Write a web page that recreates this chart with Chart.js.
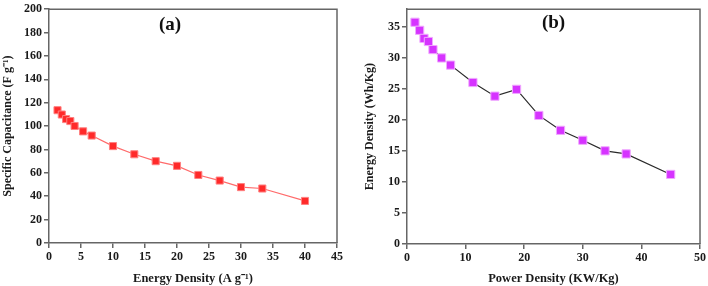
<!DOCTYPE html>
<html>
<head>
<meta charset="utf-8">
<script src="https://cdn.jsdelivr.net/npm/chart.js@4.4.0/dist/chart.umd.min.js"></script>
<style>
  html, body { margin: 0; padding: 0; background: #fff; }
  #wrap { position: relative; width: 708px; height: 286px; }
  .box { position: absolute; top: 0; width: 354px; height: 286px; }
</style>
</head>
<body>
<div id="wrap">
  <div class="box" style="left:0"><canvas id="ca"></canvas></div>
  <div class="box" style="left:354px"><canvas id="cb"></canvas></div>
</div>
<script>
// Panel (a): specific capacitance vs current density
const currentDensity = [1.33, 2, 2.67, 3.33, 4, 5.33, 6.67, 10, 13.33, 16.67, 20, 23.33, 26.67, 30, 33.33, 40];
const capacitance   = [113.6, 109.9, 106, 104.3, 100.1, 95.5, 91.9, 82.9, 75.9, 70, 66, 58.2, 53.4, 47.8, 46.6, 36];
const xTicksA = [0, 5, 10, 15, 20, 25, 30, 35, 40, 45];
const yTicksA = [0, 20, 40, 60, 80, 100, 120, 140, 160, 180, 200];

// Panel (b): Ragone plot
const powerDensity  = [1.36, 2.16, 2.9, 3.65, 4.43, 5.9, 7.44, 11.25, 15.0, 18.7, 22.5, 26.2, 30.0, 33.8, 37.4, 45.0];
const energyDensity = [35.7, 34.4, 33.1, 32.6, 31.3, 29.95, 28.8, 26.0, 23.8, 24.9, 20.7, 18.3, 16.7, 15.0, 14.5, 11.2];
const xTicksB = [0, 10, 20, 30, 40, 50];
const yTicksB = [0, 5, 10, 15, 20, 25, 30, 35];

const FONT = "'Liberation Serif', 'Times New Roman', serif";

const framePlugin = {
  id: 'frame',
  afterDraw(chart, args, opts) {
    const a = chart.chartArea, ctx = chart.ctx;
    ctx.save();
    ctx.strokeStyle = '#666';
    ctx.lineWidth = 1.5;
    ctx.beginPath();
    ctx.moveTo(a.left, a.top);
    ctx.lineTo(a.right, a.top);
    ctx.lineTo(a.right, a.bottom);
    ctx.stroke();
    ctx.fillStyle = '#111';
    ctx.font = "bold 19px " + FONT;
    ctx.textAlign = 'center';
    ctx.textBaseline = 'middle';
    ctx.fillText(opts.label, a.left + opts.fx * (a.right - a.left), a.top + opts.dy);
    ctx.restore();
  }
};

function makeChart(id, cfg) {
  const tickFont = { family: FONT, size: 12, weight: 'bold' };
  const xTitleFont = { family: FONT, size: 12.5, weight: 'bold' };
  const yTitleFont = { family: FONT, size: 12, weight: 'bold' };
  return new Chart(document.getElementById(id), {
    type: 'scatter',
    data: {
      datasets: [{
        data: cfg.xs.map((x, i) => ({ x: x, y: cfg.ys[i] })),
        showLine: true,
        borderColor: cfg.lineColor,
        borderWidth: 1.2,
        pointStyle: 'rect',
        pointRadius: cfg.pr,
        pointHoverRadius: cfg.pr,
        pointBackgroundColor: cfg.fill,
        pointBorderColor: cfg.edge,
        pointBorderWidth: 1
      }]
    },
    options: {
      responsive: false,
      animation: false,
      devicePixelRatio: 1,
      layout: { padding: cfg.pad },
      plugins: {
        legend: { display: false },
        tooltip: { enabled: false },
        frame: { label: cfg.label, fx: cfg.fx, dy: cfg.dy }
      },
      scales: {
        x: {
          type: 'linear', min: cfg.xMin, max: cfg.xMax,
          afterBuildTicks: s => { s.ticks = cfg.xTicks.map(v => ({ value: v })); },
          afterFit: s => { s.height = cfg.xh; },
          grid: { display: true, drawOnChartArea: false, drawTicks: true, tickLength: 5, color: '#666', lineWidth: 1.5 },
          border: { display: true, color: '#666', width: 1.5 },
          ticks: { font: tickFont, color: '#1a1a1a', padding: 2, maxRotation: 0 },
          title: { display: true, text: cfg.xTitle, font: xTitleFont, color: '#1a1a1a', padding: { top: 0, bottom: 0 } }
        },
        y: {
          type: 'linear', min: cfg.yMin, max: cfg.yMax,
          afterBuildTicks: s => { s.ticks = cfg.yTicks.map(v => ({ value: v })); },
          afterFit: s => { s.width = cfg.yw; },
          grid: { display: true, drawOnChartArea: false, drawTicks: true, tickLength: 5, color: '#666', lineWidth: 1.5 },
          border: { display: true, color: '#666', width: 1.5 },
          ticks: { font: tickFont, color: '#1a1a1a', padding: 2 },
          title: { display: true, text: cfg.yTitle, font: yTitleFont, color: '#1a1a1a', padding: { top: cfg.ytp, bottom: 0 } }
        }
      }
    },
    plugins: [framePlugin]
  });
}

document.getElementById('ca').width = 354; document.getElementById('ca').height = 286;
document.getElementById('cb').width = 354; document.getElementById('cb').height = 286;

makeChart('ca', {
  xs: currentDensity, ys: capacitance,
  lineColor: '#ff6b6b', fill: '#ff2a2a', edge: '#ff8080', pr: 5,
  pad: { left: 0, right: 17, top: 6, bottom: 0 },
  xMin: 0, xMax: 45, yMin: 0, yMax: 200, xTicks: xTicksA, yTicks: yTicksA,
  xh: 43, yw: 49, ytp: 1,
  xTitle: 'Energy Density (A g⁻¹)', yTitle: 'Specific Capacitance (F g⁻¹)',
  label: '(a)', fx: 0.42, dy: 16
});

makeChart('cb', {
  xs: powerDensity, ys: energyDensity,
  lineColor: '#2a2a2a', fill: '#d633ff', edge: '#f0a8ff', pr: 5.8,
  pad: { left: 0, right: 7, top: 7, bottom: 0 },
  xMin: 0, xMax: 50, yMin: 0, yMax: 37.8, xTicks: xTicksB, yTicks: yTicksB,
  xh: 42, yw: 53, ytp: 9,
  xTitle: 'Power Density (KW/Kg)', yTitle: 'Energy Density (Wh/Kg)',
  label: '(b)', fx: 0.5, dy: 14
});
</script>
</body>
</html>
